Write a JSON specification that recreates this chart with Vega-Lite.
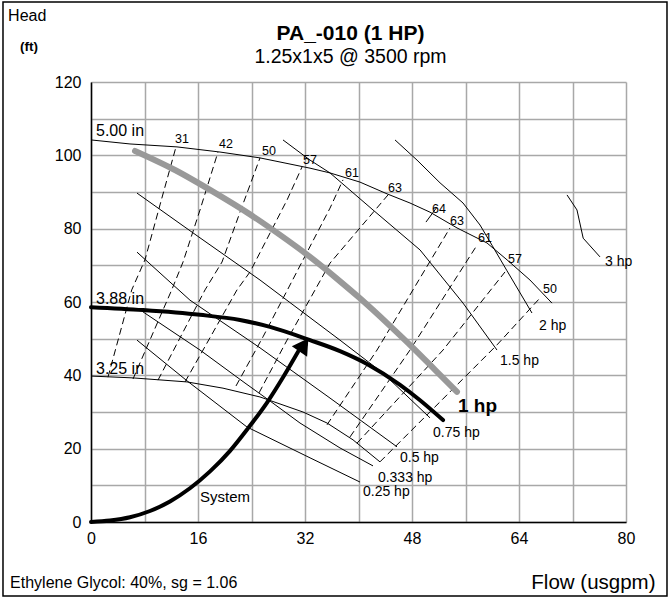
{
  "$schema": "https://vega.github.io/schema/vega-lite/v6.json",
  "width": 535,
  "height": 440,
  "autosize": {"type": "none"},
  "padding": {"left": 91, "top": 82, "right": 44, "bottom": 77},
  "background": "white",
  "config": {"font": "Liberation Sans", "view": {"stroke": null}},
  "title": {
    "text": "PA_-010 (1 HP)",
    "subtitle": "1.25x1x5 @ 3500 rpm",
    "anchor": "middle",
    "frame": "group",
    "dx": -8,
    "offset": -65,
    "font": "Liberation Sans",
    "fontSize": 21,
    "fontWeight": "bold",
    "color": "black",
    "subtitleFont": "Liberation Sans",
    "subtitleFontSize": 19.5,
    "subtitleColor": "black",
    "subtitlePadding": 4
  },
  "datasets": {
    "frame": [{"x": -13.16, "x2": 86.13, "y": 141.8, "y2": -20.2}],
    "thin": [
      {"c": "5.00 in", "x": 0, "y": 104.2}, {"c": "5.00 in", "x": 5.83, "y": 103.1}, {"c": "5.00 in", "x": 12.86, "y": 102.3}, {"c": "5.00 in", "x": 19.29, "y": 100.9}, {"c": "5.00 in", "x": 25.27, "y": 99.3}, {"c": "5.00 in", "x": 32.75, "y": 96.5}, {"c": "5.00 in", "x": 35.74, "y": 95.2}, {"c": "5.00 in", "x": 40.22, "y": 92.7}, {"c": "5.00 in", "x": 44.26, "y": 89.5}, {"c": "5.00 in", "x": 47.7, "y": 87.0}, {"c": "5.00 in", "x": 50.69, "y": 84.5}, {"c": "5.00 in", "x": 54.73, "y": 80.2}, {"c": "5.00 in", "x": 59.21, "y": 76.1}, {"c": "5.00 in", "x": 62.21, "y": 71.5}, {"c": "5.00 in", "x": 65.64, "y": 66.0}, {"c": "5.00 in", "x": 68.93, "y": 59.7},
      {"c": "3.25 in", "x": 0, "y": 39.8}, {"c": "3.25 in", "x": 6.28, "y": 39.3}, {"c": "3.25 in", "x": 14.36, "y": 38.2}, {"c": "3.25 in", "x": 19.74, "y": 36.5}, {"c": "3.25 in", "x": 25.27, "y": 34.1}, {"c": "3.25 in", "x": 31.7, "y": 30.0}, {"c": "3.25 in", "x": 35.29, "y": 27.0}, {"c": "3.25 in", "x": 39.18, "y": 22.4}, {"c": "3.25 in", "x": 43.21, "y": 16.4},
      {"c": "0.25 hp", "x": 6.88, "y": 49.6}, {"c": "0.25 hp", "x": 14.36, "y": 38.5}, {"c": "0.25 hp", "x": 23.33, "y": 25.9}, {"c": "0.25 hp", "x": 32.75, "y": 17.5}, {"c": "0.25 hp", "x": 40.22, "y": 10.9},
      {"c": "0.333 hp", "x": 7.78, "y": 57.3}, {"c": "0.333 hp", "x": 16.3, "y": 46.9}, {"c": "0.333 hp", "x": 23.03, "y": 37.9}, {"c": "0.333 hp", "x": 26.77, "y": 33.0}, {"c": "0.333 hp", "x": 31.25, "y": 27.0}, {"c": "0.333 hp", "x": 37.23, "y": 20.2}, {"c": "0.333 hp", "x": 42.17, "y": 15.3},
      {"c": "0.5 hp", "x": 6.88, "y": 73.6}, {"c": "0.5 hp", "x": 14.8, "y": 60.5}, {"c": "0.5 hp", "x": 25.27, "y": 47.5}, {"c": "0.5 hp", "x": 35.74, "y": 33.8}, {"c": "0.5 hp", "x": 45.76, "y": 20.5},
      {"c": "0.75 hp", "x": 6.88, "y": 89.7}, {"c": "0.75 hp", "x": 16.3, "y": 77.5}, {"c": "0.75 hp", "x": 25.27, "y": 66.0}, {"c": "0.75 hp", "x": 31.25, "y": 57.8}, {"c": "0.75 hp", "x": 37.23, "y": 49.6}, {"c": "0.75 hp", "x": 43.66, "y": 40.6}, {"c": "0.75 hp", "x": 50.69, "y": 28.4},
      {"c": "1.5 hp", "x": 28.71, "y": 104.2}, {"c": "1.5 hp", "x": 32.75, "y": 98.7}, {"c": "1.5 hp", "x": 35.74, "y": 95.2}, {"c": "1.5 hp", "x": 42.17, "y": 85.1}, {"c": "1.5 hp", "x": 49.2, "y": 74.2}, {"c": "1.5 hp", "x": 55.63, "y": 59.7}, {"c": "1.5 hp", "x": 60.71, "y": 46.9},
      {"c": "2 hp", "x": 45.46, "y": 104.2}, {"c": "2 hp", "x": 48.75, "y": 98.7}, {"c": "2 hp", "x": 52.19, "y": 92.5}, {"c": "2 hp", "x": 55.63, "y": 87.0}, {"c": "2 hp", "x": 58.17, "y": 81.0}, {"c": "2 hp", "x": 59.96, "y": 75.5}, {"c": "2 hp", "x": 62.21, "y": 68.5}, {"c": "2 hp", "x": 65.94, "y": 57.0},
      {"c": "3 hp", "x": 71.18, "y": 89.2}, {"c": "3 hp", "x": 72.67, "y": 85.1}, {"c": "3 hp", "x": 73.6, "y": 77.4}, {"c": "3 hp", "x": 76.11, "y": 72.3},
      {"c": "64", "x": 50.09, "y": 81.8}, {"c": "64", "x": 51.74, "y": 85.9}
    ],
    "dash": [
      {"c": "31", "x": 12.71, "y": 102.3}, {"c": "31", "x": 10.32, "y": 86.5}, {"c": "31", "x": 8.07, "y": 71.5}, {"c": "31", "x": 6.09, "y": 63.3}, {"c": "31", "x": 2.54, "y": 39.5},
      {"c": "42", "x": 18.99, "y": 100.9}, {"c": "42", "x": 16.3, "y": 85.1}, {"c": "42", "x": 13.76, "y": 70.9}, {"c": "42", "x": 12.07, "y": 63.3}, {"c": "42", "x": 6.28, "y": 39.0},
      {"c": "50", "x": 25.27, "y": 99.3}, {"c": "50", "x": 22.28, "y": 84.5}, {"c": "50", "x": 19.59, "y": 70.9}, {"c": "50", "x": 17.05, "y": 63.3}, {"c": "50", "x": 10.02, "y": 38.7},
      {"c": "57", "x": 31.55, "y": 96.8}, {"c": "57", "x": 29.31, "y": 87.8}, {"c": "57", "x": 23.78, "y": 68.2}, {"c": "57", "x": 21.83, "y": 63.3}, {"c": "57", "x": 14.06, "y": 38.2},
      {"c": "61", "x": 37.68, "y": 93.3}, {"c": "61", "x": 35.74, "y": 85.6}, {"c": "61", "x": 25.72, "y": 50.5}, {"c": "61", "x": 21.68, "y": 37.1},
      {"c": "63", "x": 44.41, "y": 89.2}, {"c": "63", "x": 35.74, "y": 70.6}, {"c": "63", "x": 29.31, "y": 49.6}, {"c": "63", "x": 25.12, "y": 35.2},
      {"c": "63R", "x": 53.68, "y": 80.2}, {"c": "63R", "x": 42.77, "y": 46.9}, {"c": "63R", "x": 35.29, "y": 26.5},
      {"c": "61R", "x": 57.72, "y": 75.5}, {"c": "61R", "x": 47.7, "y": 46.9}, {"c": "61R", "x": 38.73, "y": 23.2},
      {"c": "57R", "x": 61.91, "y": 68.2}, {"c": "57R", "x": 52.64, "y": 46.9}, {"c": "57R", "x": 39.78, "y": 21.5},
      {"c": "50R", "x": 67.29, "y": 61.4}, {"c": "50R", "x": 60.71, "y": 48.3}, {"c": "50R", "x": 43.21, "y": 16.4}
    ],
    "gray": [
      {"x": 6.58, "y": 101.2}, {"x": 12.56, "y": 96.0}, {"x": 18.24, "y": 90.1}, {"x": 23.78, "y": 83.9}, {"x": 28.26, "y": 78.3}, {"x": 32.75, "y": 72.3}, {"x": 36.49, "y": 66.8}, {"x": 40.22, "y": 61.0}, {"x": 44.71, "y": 53.5}, {"x": 48.15, "y": 47.5}, {"x": 51.44, "y": 41.5}, {"x": 54.73, "y": 35.5}
    ],
    "thick": [
      {"c": "3.88 in", "x": 0, "y": 58.6}, {"c": "3.88 in", "x": 7.78, "y": 57.8}, {"c": "3.88 in", "x": 16.3, "y": 56.5}, {"c": "3.88 in", "x": 22.28, "y": 55.1}, {"c": "3.88 in", "x": 26.77, "y": 53.2}, {"c": "3.88 in", "x": 32.75, "y": 49.6}, {"c": "3.88 in", "x": 37.23, "y": 46.6}, {"c": "3.88 in", "x": 41.27, "y": 43.1}, {"c": "3.88 in", "x": 46.21, "y": 37.4}, {"c": "3.88 in", "x": 49.2, "y": 33.2}, {"c": "3.88 in", "x": 52.64, "y": 27.8},
      {"c": "System", "x": 0, "y": 0}, {"c": "System", "x": 2.84, "y": 0.4}, {"c": "System", "x": 5.83, "y": 1.3}, {"c": "System", "x": 8.82, "y": 3.0}, {"c": "System", "x": 11.81, "y": 5.6}, {"c": "System", "x": 14.8, "y": 9.2}, {"c": "System", "x": 17.8, "y": 13.8}, {"c": "System", "x": 20.79, "y": 19.4}, {"c": "System", "x": 23.5, "y": 25.6}, {"c": "System", "x": 26.3, "y": 32.5}, {"c": "System", "x": 28.7, "y": 39.4}, {"c": "System", "x": 30.95, "y": 46.4}
    ],
    "arrow": [{"x": 31.84, "y": 48.3}],
    "curvelabels": [
      {"t": "5.00 in", "x": 0.75, "y": 105.2}, {"t": "3.88 in", "x": 0.75, "y": 59.5}, {"t": "3.25 in", "x": 0.75, "y": 40.4}
    ],
    "efflabels": [
      {"t": "31", "x": 12.56, "y": 103.4}, {"t": "42", "x": 19.14, "y": 102.0}, {"t": "50", "x": 25.57, "y": 100.1}, {"t": "57", "x": 31.7, "y": 97.6}, {"t": "61", "x": 37.98, "y": 94.1}, {"t": "63", "x": 44.41, "y": 90.0}, {"t": "64", "x": 50.99, "y": 84.3}, {"t": "63", "x": 53.68, "y": 81.0}, {"t": "61", "x": 57.87, "y": 76.4}, {"t": "57", "x": 62.36, "y": 70.6}, {"t": "50", "x": 67.59, "y": 62.5}
    ],
    "hplabels": [
      {"t": "3 hp", "x": 76.86, "y": 69.8}, {"t": "2 hp", "x": 66.99, "y": 52.4}, {"t": "1.5 hp", "x": 61.16, "y": 42.8}, {"t": "0.75 hp", "x": 51.14, "y": 23.2}, {"t": "0.5 hp", "x": 46.2, "y": 16.4}, {"t": "0.333 hp", "x": 42.9, "y": 10.9}, {"t": "0.25 hp", "x": 40.67, "y": 7.1}
    ],
    "systemlabel": [{"t": "System", "x": 16.3, "y": 5.45}],
    "boldlabel": [{"t": "1 hp", "x": 54.88, "y": 30.0}],
    "headnote": [{"t": "Head", "x": -12.4, "y": 136.6}],
    "ftnote": [{"t": "(ft)", "x": -10.6, "y": 128.4}],
    "fluidnote": [{"t": "Ethylene Glycol: 40%, sg = 1.06", "x": -12.1, "y": -18.0}]
  },
  "encoding": {
    "x": {
      "field": "x", "type": "quantitative",
      "scale": {"domain": [0, 80], "nice": false, "zero": false},
      "axis": {
        "values": [0, 8, 16, 24, 32, 40, 48, 56, 64, 72, 80],
        "labelExpr": "datum.value % 16 == 0 ? datum.label : ''",
        "grid": true, "gridColor": "#a8a8a8", "gridWidth": 1.5,
        "ticks": false, "domainColor": "black", "domainWidth": 1.5,
        "labelFontSize": 16, "labelColor": "black", "labelPadding": 8,
        "labelFlush": false, "labelOverlap": false,
        "title": "Flow (usgpm)", "titleFontSize": 20.5, "titleFontWeight": "normal", "titleColor": "black",
        "titleX": 564, "titleY": 66, "titleAlign": "right", "titleBaseline": "alphabetic", "titleAnchor": null
      }
    },
    "y": {
      "field": "y", "type": "quantitative",
      "scale": {"domain": [0, 120], "nice": false, "zero": false},
      "axis": {
        "values": [0, 10, 20, 30, 40, 50, 60, 70, 80, 90, 100, 110, 120],
        "labelExpr": "datum.value % 20 == 0 ? datum.label : ''",
        "grid": true, "gridColor": "#a8a8a8", "gridWidth": 1.5,
        "ticks": false, "domainColor": "black", "domainWidth": 1.5,
        "labelFontSize": 16, "labelColor": "black", "labelPadding": 10,
        "labelFlush": false, "labelOverlap": false,
        "title": null
      }
    }
  },
  "layer": [
    {
      "data": {"name": "frame"},
      "mark": {"type": "rect", "fillOpacity": 0, "stroke": "black", "strokeWidth": 1.5, "clip": false},
      "encoding": {"x2": {"field": "x2"}, "y2": {"field": "y2"}}
    },
    {
      "data": {"name": "thin"},
      "mark": {"type": "line", "color": "black", "strokeWidth": 1},
      "encoding": {"detail": {"field": "c"}}
    },
    {
      "data": {"name": "dash"},
      "mark": {"type": "line", "color": "black", "strokeWidth": 1, "strokeDash": [7, 4]},
      "encoding": {"detail": {"field": "c"}}
    },
    {
      "data": {"name": "gray"},
      "mark": {"type": "line", "color": "#999999", "strokeWidth": 6, "strokeCap": "round", "interpolate": "monotone"},
      "encoding": {}
    },
    {
      "data": {"name": "thick"},
      "mark": {"type": "line", "color": "black", "strokeWidth": 4, "strokeCap": "round", "interpolate": "monotone"},
      "encoding": {"detail": {"field": "c"}}
    },
    {
      "data": {"name": "arrow"},
      "mark": {"type": "point", "shape": "triangle-up", "filled": true, "color": "black", "size": 340, "angle": 34, "opacity": 1},
      "encoding": {}
    },
    {
      "data": {"name": "curvelabels"},
      "mark": {"type": "text", "align": "left", "baseline": "alphabetic", "fontSize": 16, "color": "black"},
      "encoding": {"text": {"field": "t"}}
    },
    {
      "data": {"name": "efflabels"},
      "mark": {"type": "text", "align": "left", "baseline": "alphabetic", "fontSize": 12.5, "color": "black"},
      "encoding": {"text": {"field": "t"}}
    },
    {
      "data": {"name": "hplabels"},
      "mark": {"type": "text", "align": "left", "baseline": "alphabetic", "fontSize": 14, "color": "black"},
      "encoding": {"text": {"field": "t"}}
    },
    {
      "data": {"name": "systemlabel"},
      "mark": {"type": "text", "align": "left", "baseline": "alphabetic", "fontSize": 15, "color": "black"},
      "encoding": {"text": {"field": "t"}}
    },
    {
      "data": {"name": "boldlabel"},
      "mark": {"type": "text", "align": "left", "baseline": "alphabetic", "fontSize": 19, "fontWeight": "bold", "color": "black"},
      "encoding": {"text": {"field": "t"}}
    },
    {
      "data": {"name": "headnote"},
      "mark": {"type": "text", "align": "left", "baseline": "alphabetic", "fontSize": 16, "color": "black"},
      "encoding": {"text": {"field": "t"}}
    },
    {
      "data": {"name": "ftnote"},
      "mark": {"type": "text", "align": "left", "baseline": "alphabetic", "fontSize": 13.5, "fontWeight": "bold", "color": "black"},
      "encoding": {"text": {"field": "t"}}
    },
    {
      "data": {"name": "fluidnote"},
      "mark": {"type": "text", "align": "left", "baseline": "alphabetic", "fontSize": 16, "color": "black"},
      "encoding": {"text": {"field": "t"}}
    }
  ]
}
